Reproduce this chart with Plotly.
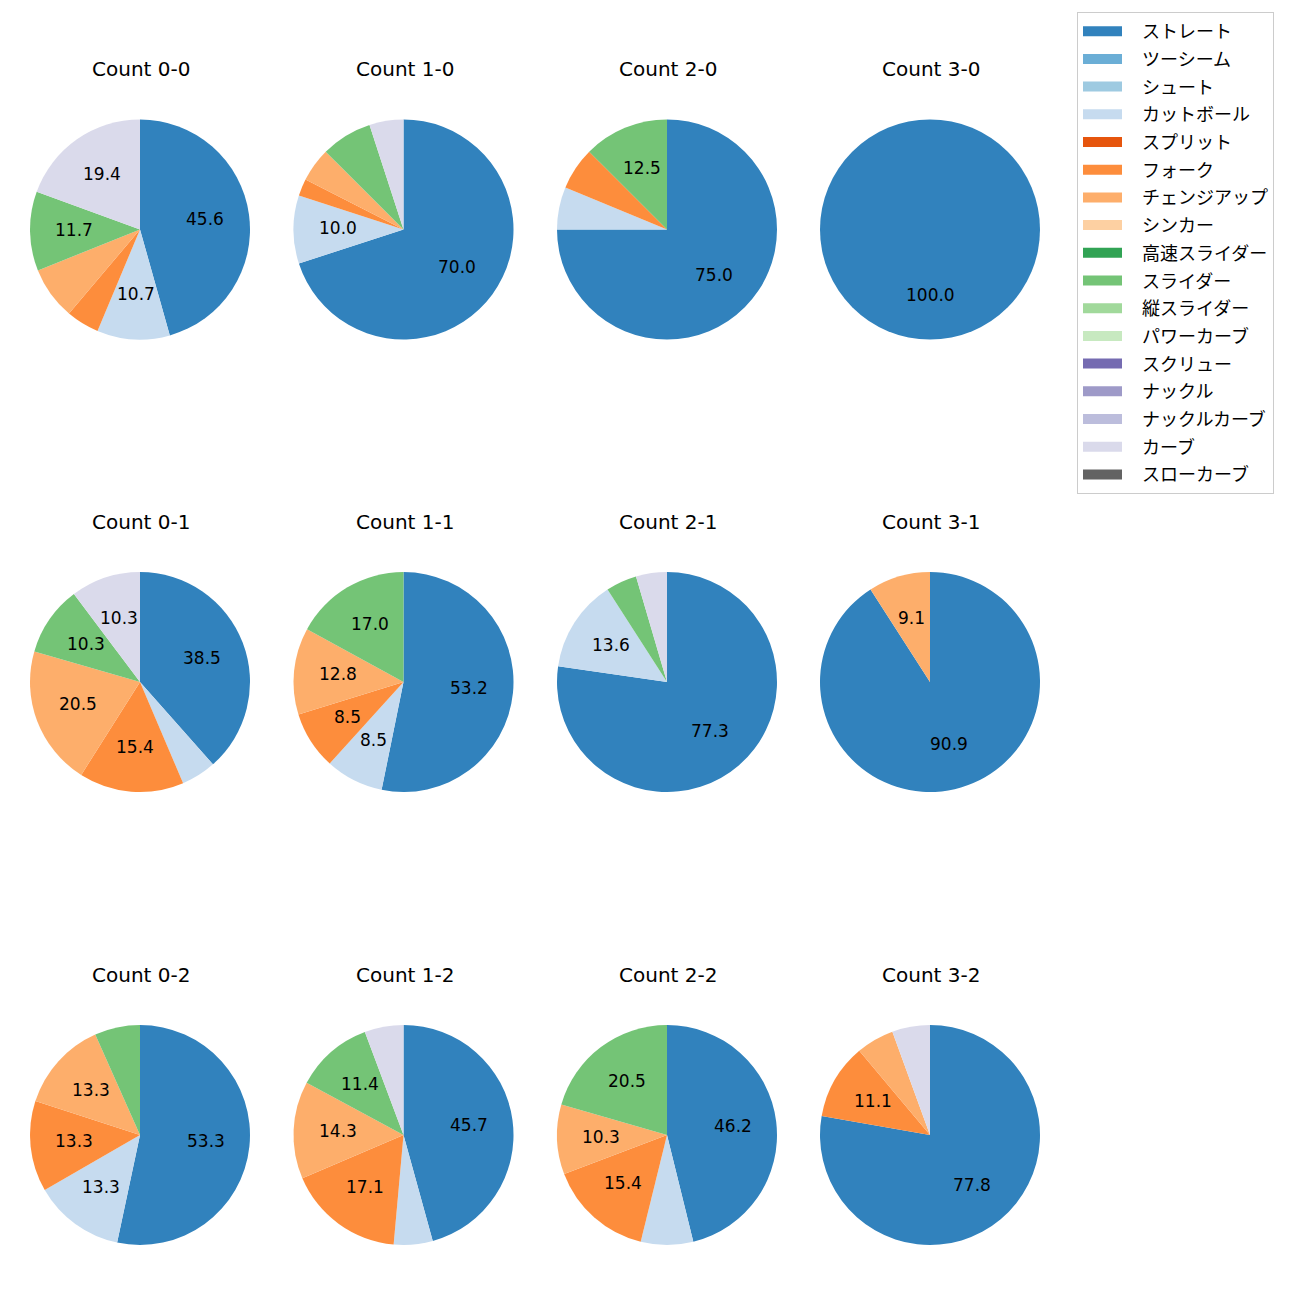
import math
import plotly.graph_objects as go

# ---- data ----
pitch_types = ["ストレート", "ツーシーム", "シュート", "カットボール", "スプリット", "フォーク",
               "チェンジアップ", "シンカー", "高速スライダー", "スライダー", "縦スライダー",
               "パワーカーブ", "スクリュー", "ナックル", "ナックルカーブ", "カーブ", "スローカーブ"]
pitch_colors = ["#3182bd", "#6baed6", "#9ecae1", "#c6dbef", "#e6550d", "#fd8d3c",
                "#fdae6b", "#fdd0a2", "#31a354", "#74c476", "#a1d99b", "#c7e9c0",
                "#756bb1", "#9e9ac8", "#bcbddc", "#dadaeb", "#636363"]

# pitch counts per ball-strike count, in pitch_types order
count_0_0 = [47, 0, 0, 11, 0, 5, 8, 0, 0, 12, 0, 0, 0, 0, 0, 20, 0]
count_1_0 = [28, 0, 0, 4, 0, 1, 2, 0, 0, 3, 0, 0, 0, 0, 0, 2, 0]
count_2_0 = [12, 0, 0, 1, 0, 1, 0, 0, 0, 2, 0, 0, 0, 0, 0, 0, 0]
count_3_0 = [1, 0, 0, 0, 0, 0, 0, 0, 0, 0, 0, 0, 0, 0, 0, 0, 0]
count_0_1 = [15, 0, 0, 2, 0, 6, 8, 0, 0, 4, 0, 0, 0, 0, 0, 4, 0]
count_1_1 = [25, 0, 0, 4, 0, 4, 6, 0, 0, 8, 0, 0, 0, 0, 0, 0, 0]
count_2_1 = [17, 0, 0, 3, 0, 0, 0, 0, 0, 1, 0, 0, 0, 0, 0, 1, 0]
count_3_1 = [10, 0, 0, 0, 0, 0, 1, 0, 0, 0, 0, 0, 0, 0, 0, 0, 0]
count_0_2 = [8, 0, 0, 2, 0, 2, 2, 0, 0, 1, 0, 0, 0, 0, 0, 0, 0]
count_1_2 = [16, 0, 0, 2, 0, 6, 5, 0, 0, 4, 0, 0, 0, 0, 0, 2, 0]
count_2_2 = [18, 0, 0, 3, 0, 6, 4, 0, 0, 8, 0, 0, 0, 0, 0, 0, 0]
count_3_2 = [14, 0, 0, 0, 0, 2, 1, 0, 0, 0, 0, 0, 0, 0, 0, 1, 0]

panels = [
    ("Count 0-0", count_0_0), ("Count 1-0", count_1_0), ("Count 2-0", count_2_0), ("Count 3-0", count_3_0),
    ("Count 0-1", count_0_1), ("Count 1-1", count_1_1), ("Count 2-1", count_2_1), ("Count 3-1", count_3_1),
    ("Count 0-2", count_0_2), ("Count 1-2", count_1_2), ("Count 2-2", count_2_2), ("Count 3-2", count_3_2),
]
label_threshold = 8.0

# ---- layout geometry (page pixels; the page body adds an 8px offset) ----
OFF = 8
W = H = 1300 - OFF
col_cx = [140 - OFF, 403.5 - OFF, 667 - OFF, 930 - OFF]
row_cy = [229.5 - OFF, 682 - OFF, 1135 - OFF]
R = 110
title_offset = 160.5
LATIN = "DejaVu Sans, Noto Sans CJK JP"
CJK = "Noto Sans CJK JP, DejaVu Sans"

fig = go.Figure()
annotations = []
for i, (title, vals) in enumerate(panels):
    cx = col_cx[i % 4]
    cy = row_cy[i // 4]
    fig.add_trace(go.Pie(
        labels=pitch_types, values=vals, sort=False, direction="clockwise", rotation=0,
        marker=dict(colors=pitch_colors, line=dict(width=0)),
        textinfo="none", hoverinfo="label+percent", showlegend=False,
        domain=dict(x=[(cx - R) / W, (cx + R) / W], y=[1 - (cy + R) / H, 1 - (cy - R) / H]),
    ))
    annotations.append(dict(x=cx / W, y=1 - (cy - title_offset) / H, xref="paper", yref="paper",
                            text=title, showarrow=False, xanchor="center", yanchor="middle",
                            xshift=1,
                            font=dict(size=20, color="black", family=LATIN)))
    total = sum(vals)
    cum = 0
    for v in vals:
        if v > 0:
            pct = 100 * v / total
            if pct >= label_threshold:
                ang = math.radians(90 - 360 * (cum + v / 2) / total)
                px = cx + 0.6 * R * math.cos(ang)
                py = cy - 0.6 * R * math.sin(ang)
                annotations.append(dict(x=px / W, y=1 - py / H, xref="paper", yref="paper",
                                        text=f"{pct:.1f}", showarrow=False,
                                        xanchor="center", yanchor="middle", yshift=1,
                                        font=dict(size=17, color="black", family=LATIN)))
        cum += v

for name, color in zip(pitch_types, pitch_colors):
    fig.add_trace(go.Scatter(x=[None], y=[None], mode="lines", name=name, legendgroup=name,
                             line=dict(color=color, width=12, dash="39px,200px"),
                             showlegend=True, hoverinfo="skip"))

fig.update_layout(
    width=W, height=H, margin=dict(l=0, r=0, t=0, b=0),
    paper_bgcolor="white", plot_bgcolor="white",
    font=dict(family=CJK, color="black"),
    xaxis=dict(visible=False), yaxis=dict(visible=False),
    annotations=annotations,
    legend=dict(x=(1077 - OFF) / W, y=1 - (12 - OFF) / H, xanchor="left", yanchor="top",
                bordercolor="#cccccc", borderwidth=1, bgcolor="white",
                itemwidth=54,
                font=dict(size=18, family=CJK, color="black"), tracegroupgap=1.3),
)
fig.write_html("out.html")
